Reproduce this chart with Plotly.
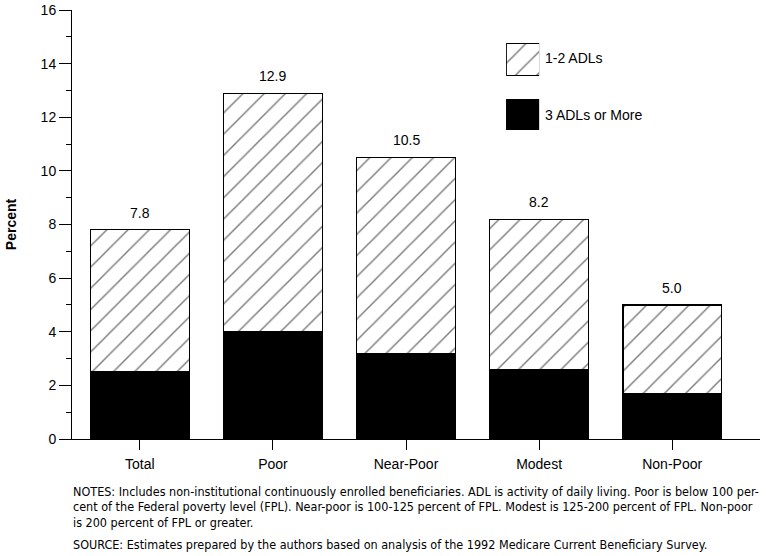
import plotly.graph_objects as go

categories = ["Total", "Poor", "Near-Poor", "Modest", "Non-Poor"]
total_values = [7.8, 12.9, 10.5, 8.2, 5.0]
three_plus = [2.5, 4.0, 3.2, 2.6, 1.7]
one_two = [round(t - b, 1) for t, b in zip(total_values, three_plus)]
y_ticks = [0, 2, 4, 6, 8, 10, 12, 14, 16]

FONT = "Liberation Sans, Arial, Helvetica, sans-serif"
NARROW = "Liberation Sans Narrow, DejaVu Sans Condensed, Arial Narrow, sans-serif"

hatch = dict(shape="/", size=15, solidity=0.1, fgcolor="black", bgcolor="white")

fig = go.Figure()
fig.add_trace(go.Bar(x=categories, y=three_plus, name="3 ADLs or More",
                     marker=dict(color="black", line=dict(color="black", width=1)),
                     width=0.74, showlegend=False))
fig.add_trace(go.Bar(x=categories, y=one_two, name="1-2 ADLs",
                     marker=dict(color="white", pattern=hatch, line=dict(color="black", width=1.2)),
                     width=0.74, showlegend=False))

for c, v in zip(categories, total_values):
    fig.add_annotation(x=c, y=v, text=f"{v:.1f}", showarrow=False, yanchor="bottom",
                       yshift=7, font=dict(family=FONT, size=14, color="black"))

# legend boxes drawn on a small overlay axis
fig.add_trace(go.Bar(x=[0], y=[31], base=[0], xaxis="x2", yaxis="y2", width=1,
                     marker=dict(color="black", line=dict(color="black", width=1)),
                     showlegend=False, hoverinfo="skip"))
fig.add_trace(go.Bar(x=[0], y=[32], base=[55], xaxis="x2", yaxis="y2", width=1,
                     marker=dict(color="white", pattern=hatch, line=dict(color="black", width=1.2)),
                     showlegend=False, hoverinfo="skip"))

fig.update_layout(
    width=767, height=556,
    margin=dict(l=72, r=7, t=10, b=117, autoexpand=False),
    paper_bgcolor="white", plot_bgcolor="white",
    barmode="stack",
    font=dict(family=FONT, size=14, color="black"),
    xaxis=dict(range=[-0.51, 4.66], showline=True, linecolor="black", linewidth=1,
               ticks="outside", ticklen=10, tickcolor="black", showgrid=False, automargin=False,
               ticklabelstandoff=2,
               tickfont=dict(family=FONT, size=14), zeroline=False),
    yaxis=dict(range=[0, 16], tickvals=y_ticks, showline=True, linecolor="black", linewidth=1,
               ticks="outside", ticklen=12, tickcolor="black", showgrid=False, zeroline=False,
               tickfont=dict(family=FONT, size=14), automargin=False,
               minor=dict(dtick=1, ticks="outside", ticklen=5, tickcolor="black", showgrid=False),
               title=dict(text="<b>Percent</b>", font=dict(family=FONT, size=14), standoff=20)),
    xaxis2=dict(domain=[0.631, 0.679], range=[-0.5, 0.5], visible=False, anchor="y2"),
    yaxis2=dict(domain=[0.720, 0.925], range=[0, 88], visible=False, anchor="x2"),
)

fig.add_annotation(x=0.6845, y=0.887, xref="paper", yref="paper", xanchor="left", yanchor="middle",
                   text="1-2 ADLs", showarrow=False, font=dict(family=FONT, size=14))
fig.add_annotation(x=0.6845, y=0.755, xref="paper", yref="paper", xanchor="left", yanchor="middle",
                   text="3 ADLs or More", showarrow=False, font=dict(family=FONT, size=14))

note_lines = [
    "NOTES: Includes non-institutional continuously enrolled beneficiaries. ADL is activity of daily living. Poor is below 100 per-",
    "cent of the Federal poverty level (FPL). Near-poor is 100-125 percent of FPL. Modest is 125-200 percent of FPL. Non-poor",
    "is 200 percent of FPL or greater.",
]
source = "SOURCE: Estimates prepared by the authors based on analysis of the 1992 Medicare Current Beneficiary Survey."
for line, yy in zip(note_lines + [source], [-0.1235, -0.1585, -0.1935, -0.247]):
    fig.add_annotation(x=-0.002, y=yy, xref="paper", yref="paper", xanchor="left", yanchor="middle",
                       align="left", text=line, showarrow=False, font=dict(family=NARROW, size=12.5))

fig.write_html("out.html", config={"displayModeBar": False},
               post_script="document.body.style.margin='0px';document.body.style.overflow='hidden';")
